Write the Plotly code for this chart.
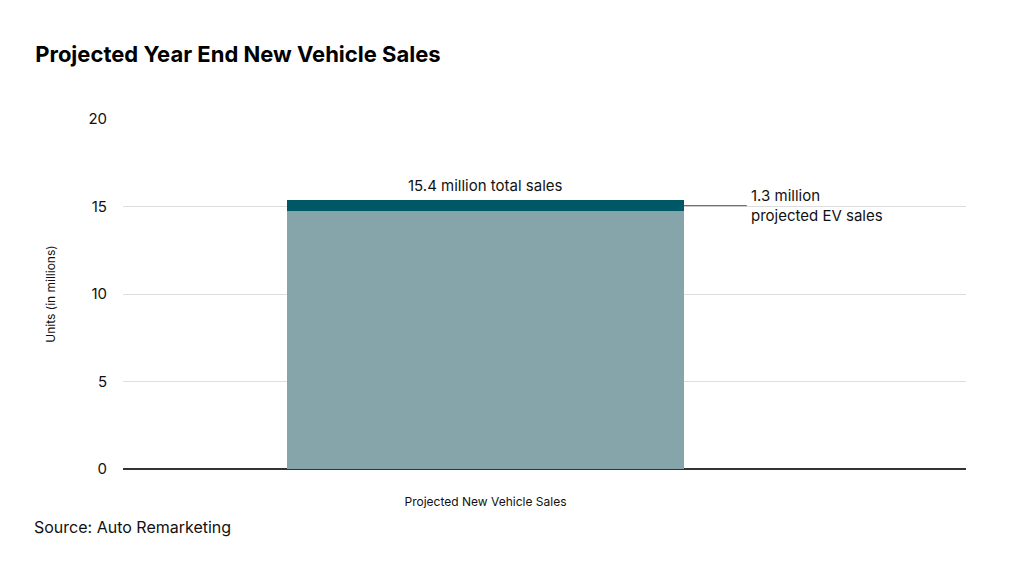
import plotly.graph_objects as go

category = ["Projected New Vehicle Sales"]
other_sales = [14.75]
ev_sales = [0.65]
total_label = "15.4 million total sales"
ev_label = "1.3 million<br>projected EV sales"

fig = go.Figure()
fig.add_trace(go.Bar(x=[0.43], y=other_sales, width=0.47, marker_color="#85a5ab",
                     marker_line_width=0, showlegend=False))
fig.add_trace(go.Bar(x=[0.43], y=ev_sales, width=0.47, marker_color="#005866",
                     marker_line_width=0, showlegend=False))

total = other_sales[0] + ev_sales[0]
fig.add_annotation(x=0.43, y=total, text=total_label, showarrow=False, yshift=14,
                   font=dict(size=15, color="#111"))
fig.add_shape(type="line", x0=0.665, x1=0.74, y0=total - 0.35, y1=total - 0.35,
              line=dict(color="#333", width=0.8))
fig.add_annotation(x=0.742, y=total - 0.35, text=ev_label, showarrow=False, xanchor="left",
                   align="left", font=dict(size=15, color="#111"))

fig.update_layout(
    barmode="stack", width=1008, height=549, plot_bgcolor="white", paper_bgcolor="white",
    font=dict(family="Inter, Roboto, sans-serif", color="#111"),
    margin=dict(l=115, r=50, t=111, b=88),
    title=dict(text="<b>Projected Year End New Vehicle Sales</b>", x=0.027, y=0.93,
               xanchor="left", font=dict(size=22, color="#000")),
    xaxis=dict(range=[0, 1], tickvals=[0.43], ticktext=category, showgrid=False,
               showline=False, tickfont=dict(size=12), zeroline=False,
               ticks="outside", ticklen=22, tickcolor="rgba(0,0,0,0)"),
    yaxis=dict(range=[0, 20], tickvals=[0, 5, 10, 15, 20], gridcolor="#dddddd",
               zeroline=True, zerolinecolor="#333", zerolinewidth=1.5,
               tickfont=dict(size=15), ticks="outside", ticklen=12,
               tickcolor="rgba(0,0,0,0)",
               title=dict(text="Units (in millions)", font=dict(size=12), standoff=30)),
)
fig.add_annotation(xref="paper", yref="paper", x=-0.108, y=-0.2, xanchor="left",
                   text="Source: Auto Remarketing", showarrow=False,
                   font=dict(size=16, color="#111"))

fig.write_html("out.html")
